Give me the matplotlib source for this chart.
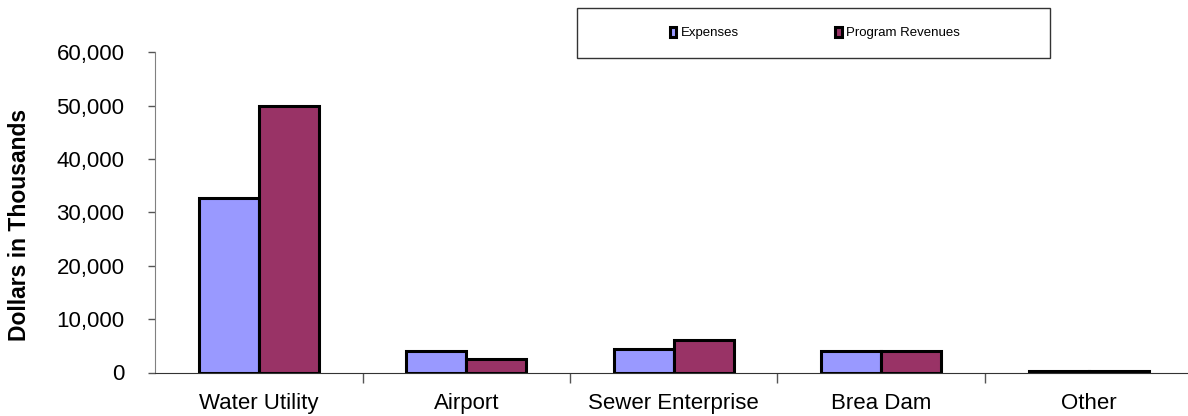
import matplotlib
matplotlib.use('Agg')
import matplotlib.pyplot as plt
import numpy as np
from matplotlib.patches import Rectangle
from matplotlib.ticker import FuncFormatter, FixedLocator

categories = ['Water Utility', 'Airport', 'Sewer Enterprise', 'Brea Dam', 'Other']
expenses = [32700, 4100, 4450, 4100, 250]
program_revenues = [50000, 2600, 6050, 4100, 250]

plt.rcParams['font.family'] = ['Liberation Sans', 'DejaVu Sans']

fig = plt.figure(figsize=(11.88, 4.16), dpi=100)
ax = fig.add_axes([155 / 1188, 1 - 372.5 / 416, (1188 - 155) / 1188, 320 / 416])

x = np.arange(len(categories))
w = 0.29
ax.bar(x - w / 2, expenses, w, color='#9999FF', edgecolor='black', linewidth=2.2, label='Expenses')
ax.bar(x + w / 2, program_revenues, w, color='#993366', edgecolor='black', linewidth=2.2,
       label='Program Revenues')

ax.set_ylim(0, 60000)
ax.set_xlim(-0.5, -0.5 + (1188 - 155) / 207.5)
ax.set_yticks(np.arange(0, 60001, 10000))
ax.yaxis.set_major_formatter(FuncFormatter(lambda v, p: f'{v:,.0f}'))
ax.tick_params(axis='y', labelsize=16, length=5, width=1, color='#555555', pad=17)

ax.set_xticks(x)
ax.set_xticklabels(categories, fontsize=16)
ax.xaxis.set_minor_locator(FixedLocator(x[:-1] + 0.5))
ax.tick_params(axis='x', which='major', length=0, pad=15)
ax.tick_params(axis='x', which='minor', length=7, width=1, color='#555555')

for s in ['top', 'right']:
    ax.spines[s].set_visible(False)
ax.spines['left'].set_color('#808080')
ax.spines['bottom'].set_color('#333333')

fig.text(20 / 1188, 1 - 225 / 416, 'Dollars in Thousands', rotation=90, fontsize=16.5,
         fontweight='bold', ha='center', va='center')

# legend box
fig.patches.append(Rectangle((577 / 1188, 1 - 58 / 416), (1050 - 577) / 1188, 50 / 416,
                             transform=fig.transFigure, facecolor='white', edgecolor='#333333',
                             linewidth=1))
fig.legend(loc='center', bbox_to_anchor=(815 / 1188, 1 - 33 / 416), ncol=2, frameon=False,
           fontsize=9.5, handlelength=0.5, handleheight=0.8, handletextpad=0.35,
           columnspacing=7.3)

fig.savefig('out.png', dpi=100)
